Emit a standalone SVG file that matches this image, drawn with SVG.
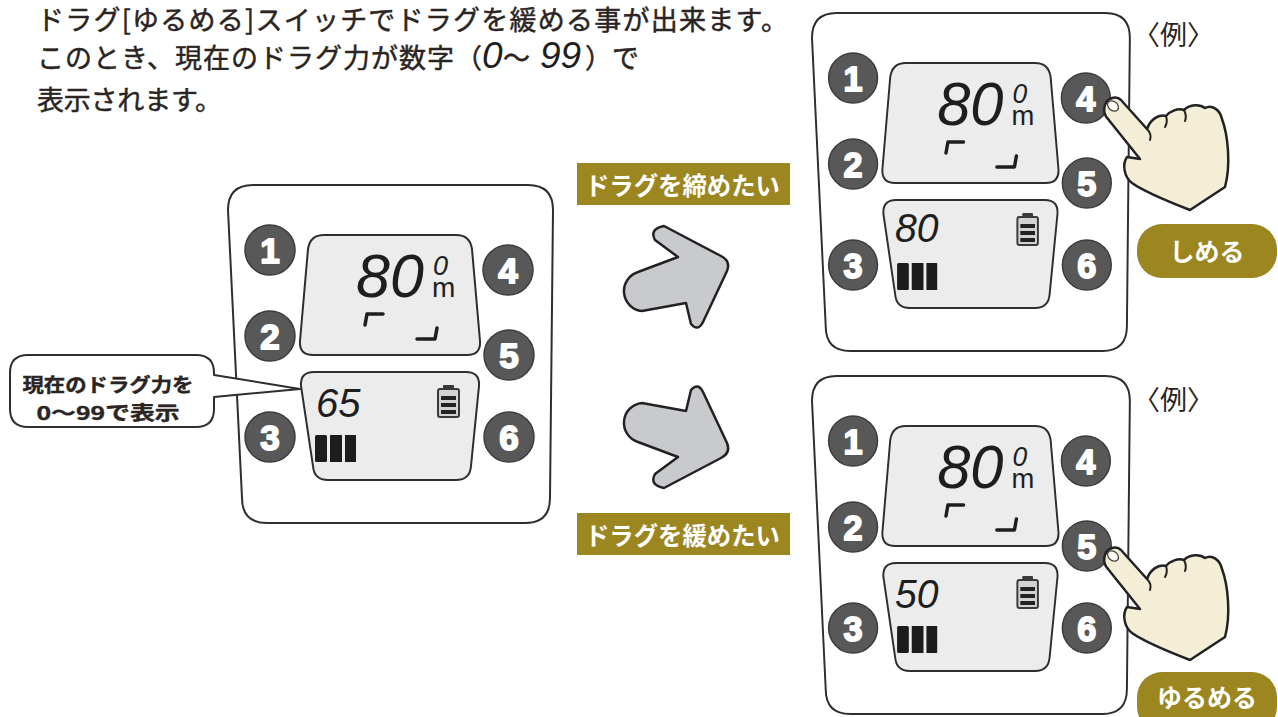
<svg xmlns="http://www.w3.org/2000/svg" xmlns:xlink="http://www.w3.org/1999/xlink" width="1278" height="717" viewBox="0 0 1278 717">
  <style>
    .jp { font-family: 'Noto Sans CJK JP', 'Noto Sans CJK SC', sans-serif; }
    .head { font-size: 27px; font-weight: 400; fill: #2a2422; stroke: #2a2422; stroke-width: 0.45; }
    .seg { font-family: 'Liberation Sans', Arial, sans-serif; font-style: italic; fill: #1e1e1e; }
    .head .seg { stroke: none; }
    .case { fill: #ffffff; stroke: #2e2e2e; stroke-width: 2; }
    .lcd { fill: #ececec; stroke: #2e2e2e; stroke-width: 2; }
    .key { fill: #585858; stroke: #3c3c3c; stroke-width: 1.5; }
    .keynum { font-family: 'Liberation Sans', Arial, sans-serif; font-weight: bold; font-size: 35px; fill: #ffffff; stroke: #ffffff; stroke-width: 1.8; stroke-linejoin: round; text-anchor: middle; }
    .mark { fill: none; stroke: #1e1e1e; stroke-width: 3.5; stroke-linecap: round; stroke-linejoin: round; }
    .bar { fill: #1c1c1c; }
    .tag { fill: #9c8620; }
    .tagtext { font-size: 25px; font-weight: bold; fill: #ffffff; }
    .arrow { fill: #c9cacd; stroke: #222222; stroke-width: 2.5; stroke-linejoin: round; }
    .hand { fill: #f4eed6; stroke: #222222; stroke-width: 2.5; stroke-linejoin: round; }
    .crease { fill: none; stroke: #222222; stroke-width: 2; stroke-linecap: round; }
    .bubble { fill: #ffffff; stroke: #2e2e2e; stroke-width: 2; stroke-linejoin: round; }
    .note { font-size: 19px; font-weight: bold; fill: #2a2422; stroke: #2a2422; stroke-width: 0.4; text-anchor: middle; }
  </style>

  <defs>
    <!-- reel display unit: case, two LCD windows, six keys -->
    <g id="unit">
      <path class="case" d="M25,0 L300,0 Q325,0 325,25 L322,313 Q322,338 297,338 L39,338 Q14,338 14,313 L0,25 Q0,0 25,0 Z"/>
      <path class="lcd" d="M96,50 L228,50 Q242,50 244,64 L252,156 Q253,170 239,170 L85,170 Q71,170 72,156 L80,64 Q82,50 96,50 Z"/>
      <path class="lcd" d="M86,187 L238,187 Q252,187 251,201 L243,281 Q242,295 228,295 L100,295 Q86,295 85,281 L73,201 Q72,187 86,187 Z"/>

      <!-- depth readout -->
      <text class="seg" x="128" y="112" font-size="61">80</text>
      <text class="seg" x="205" y="90" font-size="27">0</text>
      <text x="204" y="112" font-family="'Liberation Sans', Arial, sans-serif" font-size="28" fill="#1e1e1e">m</text>
      <path class="mark" d="M137,140 L139,129 L155,129"/>
      <path class="mark" d="M189,154 L207,154 L209,143"/>

      <!-- battery -->
      <rect x="215" y="200" width="11" height="5" rx="1" fill="#3a3a3a"/>
      <rect x="210" y="204" width="21" height="28" rx="2" fill="#d2d2d2" stroke="#3a3a3a" stroke-width="2"/>
      <rect x="213" y="211" width="15" height="4" fill="#222"/>
      <rect x="213" y="218" width="15" height="4" fill="#222"/>
      <rect x="213" y="225" width="15" height="4" fill="#222"/>

      <!-- signal bars -->
      <rect class="bar" x="87" y="250" width="12" height="27" rx="1.5"/>
      <rect class="bar" x="102" y="250" width="12" height="27"/>
      <rect class="bar" x="117" y="250" width="11" height="27"/>

      <!-- keys -->
      <circle class="key" cx="42" cy="65" r="25"/>
      <text class="keynum" x="42" y="78">1</text>
      <circle class="key" cx="42" cy="151" r="25"/>
      <text class="keynum" x="42" y="164">2</text>
      <circle class="key" cx="42" cy="252" r="25"/>
      <text class="keynum" x="42" y="265">3</text>
      <circle class="key" cx="280" cy="85" r="25"/>
      <text class="keynum" x="280" y="98">4</text>
      <circle class="key" cx="281" cy="170" r="25"/>
      <text class="keynum" x="281" y="183">5</text>
      <circle class="key" cx="281" cy="252" r="25"/>
      <text class="keynum" x="281" y="265">6</text>
    </g>

    <!-- pressing hand -->
    <g id="hand-shape">
      <path class="hand" d="M1108,119 C1102,113 1103,101 1112,98 C1116,97 1119,98 1121,100 L1147,129 C1150,120 1158,114 1166,116 C1170,111 1178,108 1184,110 C1190,104 1200,104 1205,108 C1212,104 1220,110 1222,119 C1228,135 1231,165 1225,187 L1190,210 C1172,203 1146,193 1132,183 C1124,177 1122,164 1127,157 L1140,159 Z"/>
      <path class="crease" d="M1147,129 Q1152,134 1150,140"/>
      <path class="crease" d="M1166,116 Q1168,122 1165,127"/>
      <path class="crease" d="M1184,110 Q1187,116 1185,121"/>
      <ellipse cx="1113" cy="106" rx="6" ry="4.5" transform="rotate(40 1113 106)" fill="#fffdf6" stroke="#444" stroke-width="1.3"/>
    </g>

    <!-- bent direction arrow -->
    <path id="bend-arrow" class="arrow" d="M664,226 L721,256 Q731,261 727,271 L703,322 Q698,332 691,324 L686,303 L642,311 A20,20 0 0 1 638,272 L678,257 L655,240 Q649,229 664,226 Z"/>
  </defs>

  <rect width="1278" height="717" fill="#ffffff"/>

  <!-- heading -->
  <g id="heading" class="jp head">
    <text x="37" y="30" textLength="751" lengthAdjust="spacing">ドラグ[ゆるめる]スイッチでドラグを緩める事が出来ます。</text>
    <text y="68"><tspan x="37" textLength="417" lengthAdjust="spacing">このとき、現在のドラグ力が数字</tspan><tspan x="455">（</tspan><tspan x="482" class="seg" font-size="37">0</tspan><tspan x="503">〜</tspan><tspan x="540" class="seg" font-size="37">99</tspan><tspan x="585">）</tspan><tspan x="612">で</tspan></text>
    <text x="37" y="110" textLength="185" lengthAdjust="spacing">表示されます。</text>
  </g>

  <!-- current unit -->
  <g id="unit-now" transform="translate(228,185)">
    <use xlink:href="#unit"/>
    <text class="seg" x="88" y="232" font-size="40">65</text>
  </g>

  <!-- callout -->
  <g id="callout">
    <path class="bubble" d="M28,355 L196,355 Q214,355 214,373 L214,375 L300,389 L214,397 L214,409 Q214,427 196,427 L28,427 Q10,427 10,409 L10,373 Q10,355 28,355 Z"/>
    <text class="jp note" x="108" y="392" textLength="171" lengthAdjust="spacingAndGlyphs">現在のドラグ力を</text>
    <text class="jp note" x="108" y="420" textLength="143" lengthAdjust="spacingAndGlyphs">0〜99で表示</text>
  </g>

  <!-- tighten example -->
  <g id="unit-tight" transform="translate(812,13) scale(0.978,1)">
    <use xlink:href="#unit"/>
    <text class="seg" x="85" y="229" font-size="40">80</text>
  </g>

  <!-- loosen example -->
  <g id="unit-loose" transform="translate(812,376) scale(0.978,1)">
    <use xlink:href="#unit"/>
    <text class="seg" x="85" y="232" font-size="40">50</text>
  </g>

  <!-- arrows between units -->
  <g id="connectors">
    <use xlink:href="#bend-arrow"/>
    <use xlink:href="#bend-arrow" transform="translate(0,714) scale(1,-1)"/>
  </g>

  <!-- action labels -->
  <g id="label-tight">
    <rect class="tag" x="577" y="163" width="213" height="42"/>
    <text class="jp tagtext" x="585" y="195" textLength="195" lengthAdjust="spacingAndGlyphs">ドラグを締めたい</text>
  </g>
  <g id="label-loose">
    <rect class="tag" x="577" y="513" width="213" height="42"/>
    <text class="jp tagtext" x="585" y="545" textLength="195" lengthAdjust="spacingAndGlyphs">ドラグを緩めたい</text>
  </g>

  <!-- example marks -->
  <g id="example-top">
    <text class="jp" x="1133" y="45" font-size="27" fill="#2a2422">〈例〉</text>
  </g>
  <g id="example-bottom">
    <text class="jp" x="1133" y="410" font-size="27" fill="#2a2422">〈例〉</text>
  </g>

  <!-- hands -->
  <g id="hand-key4">
    <use xlink:href="#hand-shape"/>
  </g>
  <g id="hand-key5">
    <use xlink:href="#hand-shape" transform="translate(0,450)"/>
  </g>

  <!-- switch buttons -->
  <g id="btn-shimeru">
    <rect class="tag" x="1137" y="224" width="140" height="54" rx="25"/>
    <text class="jp tagtext" x="1207" y="261" text-anchor="middle" font-size="24">しめる</text>
  </g>
  <g id="btn-yurumeru">
    <rect class="tag" x="1137" y="672" width="140" height="60" rx="25"/>
    <text class="jp tagtext" x="1207" y="707" text-anchor="middle" font-size="24">ゆるめる</text>
  </g>
</svg>
